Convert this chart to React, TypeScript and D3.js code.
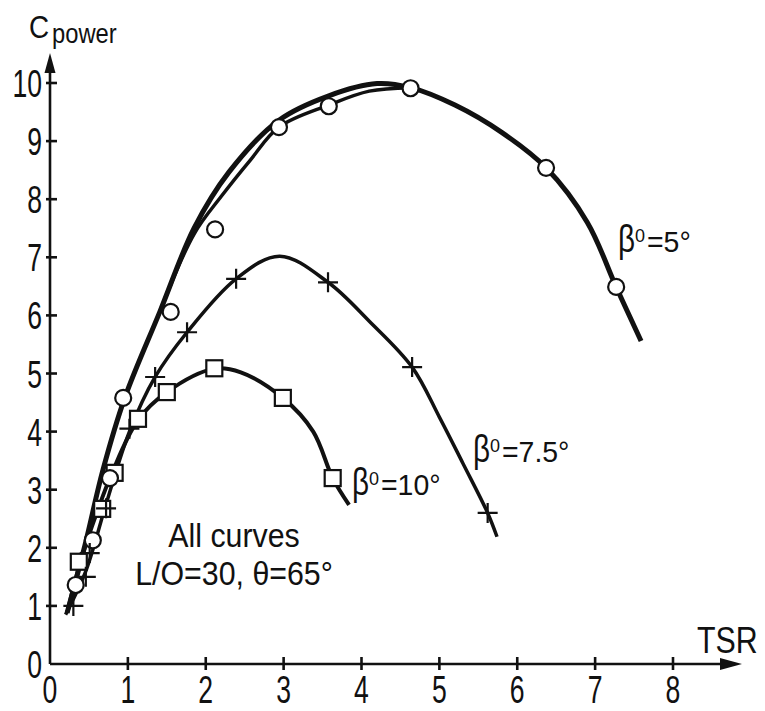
import React from 'react';
import * as d3 from 'd3';

type Pt = [number, number];

// axis ticks
const xTicks = [0, 1, 2, 3, 4, 5, 6, 7, 8];
const yTicks = [0, 1, 2, 3, 4, 5, 6, 7, 8, 9, 10];

// faired curves (TSR, Cpower)
const curve5Outer: Pt[] = [
  [0.22, 0.88], [0.45, 2.05], [0.68, 3.34], [0.96, 4.58], [1.41, 6.06],
  [1.85, 7.5], [2.3, 8.47], [2.94, 9.36], [3.58, 9.78], [4.2, 9.99],
  [4.63, 9.92], [5.2, 9.62], [5.8, 9.15], [6.37, 8.54], [6.9, 7.6],
  [7.27, 6.49], [7.59, 5.56],
];
const curve5Inner: Pt[] = [
  [1.41, 6.06], [1.85, 7.4], [2.2, 8.05], [2.57, 8.67], [2.94, 9.24],
  [3.58, 9.62], [4.1, 9.86], [4.63, 9.92],
];
const curve75: Pt[] = [
  [0.2, 0.85], [0.46, 1.6], [0.72, 2.75], [1.02, 4.0], [1.35, 4.94],
  [1.76, 5.71], [2.39, 6.63], [2.95, 7.02], [3.57, 6.57], [4.1, 5.9],
  [4.65, 5.11], [5.0, 4.25], [5.3, 3.46], [5.62, 2.6], [5.74, 2.19],
];
const curve10: Pt[] = [
  [0.22, 0.88], [0.4, 1.8], [0.6, 2.6], [0.8, 3.3], [1.13, 4.2],
  [1.5, 4.68], [2.1, 5.08], [2.45, 5.02], [2.99, 4.58], [3.38, 4.0],
  [3.63, 3.2], [3.84, 2.74],
];

// measured points
const circles5: Pt[] = [
  [0.33, 1.36], [0.55, 2.13], [0.77, 3.2], [0.94, 4.58], [1.55, 6.06],
  [2.12, 7.48], [2.94, 9.24], [3.58, 9.6], [4.63, 9.91], [6.37, 8.54],
  [7.27, 6.49],
];
const pluses75: Pt[] = [
  [0.3, 1.0], [0.46, 1.5], [0.51, 1.91], [0.72, 2.68], [1.02, 4.05],
  [1.35, 4.94], [1.76, 5.71], [2.39, 6.63], [3.57, 6.57], [4.65, 5.11],
  [5.62, 2.6],
];
const squares10: Pt[] = [
  [0.37, 1.76], [0.67, 2.67], [0.83, 3.29], [1.13, 4.22], [1.5, 4.68],
  [2.11, 5.09], [2.99, 4.58], [3.63, 3.2],
];

const W = 765;
const H = 711;
const FONT = '"Liberation Sans", Arial, sans-serif';
const INK = '#111';

const x = d3.scaleLinear().domain([0, 8]).range([50, 673]);
const y = d3.scaleLinear().domain([0, 10]).range([664, 83]);

const line = d3.line<Pt>()
    .x((d) => x(d[0]))
    .y((d) => y(d[1]))
    .curve(d3.curveCatmullRom.alpha(0.5));

// condensed text: scaled horizontally around its anchor
const CText = ({px, py, size, sx, anchor = 'start', children}: {
  px: number, py: number, size: number, sx: number,
  anchor?: 'start' | 'middle' | 'end', children: React.ReactNode
}) => (
    <text transform={`translate(${px},${py}) scale(${sx},1)`}
          fontSize={size} textAnchor={anchor} fill={INK} fontFamily={FONT}>
      {children}
    </text>
);

const BetaLabel = ({px, py, value}: {px: number, py: number, value: string}) => (
    <g transform={`translate(${px},${py})`}>
      <CText px={0} py={0} size={38} sx={0.78}>β</CText>
      <CText px={17} py={-10} size={18} sx={1}>0</CText>
      <CText px={29} py={0} size={29} sx={0.98}>{`=${value}°`}</CText>
    </g>
);

const App = () => {
  const x0 = x(0);
  const y0 = y(0);
  return (
      <svg width={W} height={H} style={{position: 'absolute', left: 0, top: 0, background: '#fff'}}>
        {/* axes */}
        <g stroke={INK} strokeWidth={2.6}>
          <line x1={x0} y1={y0} x2={722} y2={y0}/>
          <line x1={x0} y1={y0} x2={x0} y2={70}/>
          {xTicks.slice(1).map((t) => (
              <line key={t} x1={x(t)} x2={x(t)} y1={y0 - 7} y2={y0 + 6}/>
          ))}
          {yTicks.slice(1).map((t) => (
              <line key={t} x1={x0 - 4} x2={x0 + 7} y1={y(t)} y2={y(t)}/>
          ))}
        </g>
        <path d={`M742,${y0} L720,${y0 - 6} L720,${y0 + 6} Z`} fill={INK}/>
        <path d={`M${x0},53 L${x0 - 5.5},73 L${x0 + 5.5},73 Z`} fill={INK}/>

        {xTicks.map((t) => (
            <CText key={t} px={x(t)} py={703} size={38} sx={0.7} anchor="middle">{t}</CText>
        ))}
        {yTicks.map((t) => (
            <CText key={t} px={42} py={y(t) + 14} size={38} sx={0.7} anchor="end">{t}</CText>
        ))}

        <CText px={29} py={38} size={32} sx={0.87}>C</CText>
        <CText px={52} py={43} size={27} sx={0.88}>power</CText>
        <CText px={697} py={653} size={37} sx={0.82}>TSR</CText>

        {/* curves */}
        <g fill="none" stroke={INK} strokeLinecap="butt">
          <path d={line(curve10) ?? ''} strokeWidth={4}/>
          <path d={line(curve75) ?? ''} strokeWidth={3.5}/>
          <path d={line(curve5Outer) ?? ''} strokeWidth={5}/>
          <path d={line(curve5Inner) ?? ''} strokeWidth={3.5}/>
        </g>

        {/* markers */}
        {squares10.map((d, i) => (
            <rect key={i} x={x(d[0]) - 8} y={y(d[1]) - 8} width={16} height={16}
                  fill="#fff" stroke={INK} strokeWidth={2.2}/>
        ))}
        {circles5.map((d, i) => (
            <circle key={i} cx={x(d[0])} cy={y(d[1])} r={8}
                    fill="#fff" stroke={INK} strokeWidth={2.2}/>
        ))}
        {pluses75.map((d, i) => (
            <path key={i} d={`M${x(d[0]) - 10},${y(d[1])}h20M${x(d[0])},${y(d[1]) - 10}v20`}
                  stroke={INK} strokeWidth={2.2}/>
        ))}

        <BetaLabel px={618} py={252} value="5"/>
        <BetaLabel px={473} py={462} value="7.5"/>
        <BetaLabel px={352} py={495} value="10"/>

        <CText px={234} py={547} size={33} sx={0.92} anchor="middle">All curves</CText>
        <CText px={234} py={585} size={33} sx={0.92} anchor="middle">L/O=30, θ=65°</CText>
      </svg>
  );
};

export default App;
